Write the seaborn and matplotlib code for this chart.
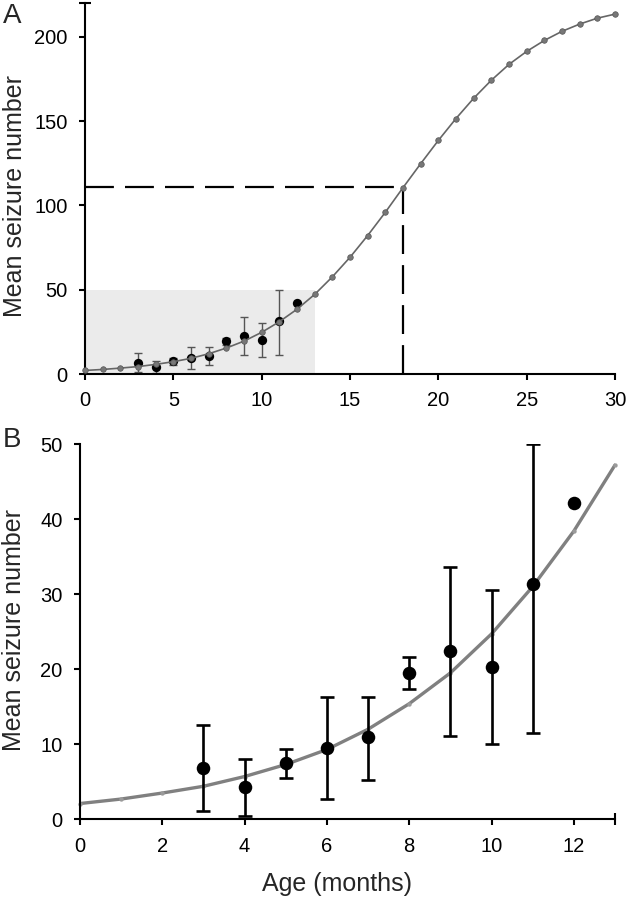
import numpy as np
import pandas as pd
import matplotlib
matplotlib.use("Agg")
import matplotlib.pyplot as plt
from matplotlib.ticker import FixedLocator
import seaborn as sns

# ---- data ----
model_months = list(range(0, 31))
model_values = [2.1, 2.7, 3.5, 4.4, 5.7, 7.3, 9.3, 12.0, 15.4, 19.5, 24.7, 31.0,
                38.4, 47.2, 57.6, 69.2, 82.1, 95.9, 110.5, 124.7, 138.5, 151.5,
                163.5, 174.2, 183.6, 191.3, 197.8, 203.2, 207.5, 211.0, 213.4]

obs_months = [3, 4, 5, 6, 7, 8, 9, 10, 11, 12]
obs_mean = [6.8, 4.3, 7.5, 9.5, 10.9, 19.5, 22.4, 20.3, 31.3, 42.1]
obs_upper = [12.5, 8.0, 9.4, 16.3, 16.3, 21.6, 33.6, 30.5, 50.0, np.nan]
obs_lower = [1.1, 0.5, 5.5, 2.7, 5.3, 17.4, 11.1, 10.0, 11.5, np.nan]

marker_month = 18
marker_value = 111
shade_x = [0, 13]
shade_top = 50

model_df = pd.DataFrame({"month": model_months, "value": model_values})
obs_df = pd.DataFrame({"month": obs_months, "mean": obs_mean,
                       "upper": obs_upper, "lower": obs_lower})
modelB = model_df[model_df["month"] <= 13]

sns.set_theme(style="ticks")
plt.rcParams["font.family"] = ["Liberation Sans", "DejaVu Sans"]

W, H = 627, 900
fig = plt.figure(figsize=(W / 100, H / 100), dpi=100)

def frac(x0, y0, x1, y1):
    return [x0 / W, 1 - y1 / H, (x1 - x0) / W, (y1 - y0) / H]

axA = fig.add_axes(frac(85, 3, 615, 374))
axB = fig.add_axes(frac(80, 444, 615, 819.3))

# ---------- Panel A ----------
axA.fill_between(shade_x, 0, shade_top, color="#ebebeb", lw=0, zorder=0)
axA.plot([0, marker_month], [marker_value, marker_value], color="black",
         lw=1.6, linestyle=(0, (13, 5)), zorder=1)
axA.plot([marker_month, marker_month], [0, marker_value], color="black",
         lw=1.6, linestyle=(0, (13, 5)), zorder=1)

errA = obs_df.dropna()
axA.errorbar(errA["month"], errA["mean"],
             yerr=[errA["mean"] - errA["lower"], errA["upper"] - errA["mean"]],
             fmt="none", ecolor="#555555", elinewidth=1.0, capsize=3.2,
             capthick=1.0, zorder=2)
sns.scatterplot(data=obs_df, x="month", y="mean", ax=axA, color="black",
                s=45, edgecolor="black", linewidth=0, zorder=3, clip_on=False)
sns.lineplot(data=model_df, x="month", y="value", ax=axA, color="#666666",
             lw=1.2, zorder=4)
sns.scatterplot(data=model_df, x="month", y="value", ax=axA, color="#777777",
                s=16, edgecolor="#555555", linewidth=0.5, zorder=5, clip_on=False)

axA.set_xlim(0, 30)
axA.set_ylim(0, 220)
axA.set_xticks([0, 5, 10, 15, 20, 25, 30])
axA.set_yticks([0, 50, 100, 150, 200])
axA.yaxis.set_minor_locator(FixedLocator([220]))
axA.xaxis.set_minor_locator(FixedLocator([30]))
axA.set_xlabel("")
axA.set_ylabel("Mean seizure number", fontsize=18)
axA.yaxis.set_label_coords(-0.11, 0.48)

# ---------- Panel B ----------
sns.lineplot(data=modelB, x="month", y="value", ax=axB, color="#808080",
             lw=2.4, zorder=1)
sns.scatterplot(data=modelB, x="month", y="value", ax=axB, color="#9a9a9a",
                s=10, linewidth=0, zorder=2, clip_on=False)
axB.errorbar(errA["month"], errA["mean"],
             yerr=[errA["mean"] - errA["lower"], errA["upper"] - errA["mean"]],
             fmt="none", ecolor="black", elinewidth=1.9, capsize=5,
             capthick=1.9, zorder=3)
sns.scatterplot(data=obs_df, x="month", y="mean", ax=axB, color="black",
                s=95, linewidth=0, zorder=4, clip_on=False)

axB.set_xlim(0, 13)
axB.set_ylim(0, 50)
axB.set_xticks([0, 2, 4, 6, 8, 10, 12])
axB.set_yticks([0, 10, 20, 30, 40, 50])
axB.xaxis.set_minor_locator(FixedLocator([13]))
axB.yaxis.set_minor_locator(FixedLocator([50]))
axB.set_xlabel("Age (months)", fontsize=18)
axB.set_ylabel("Mean seizure number", fontsize=18)
axB.yaxis.set_label_coords(-0.1, 0.505)
axB.xaxis.set_label_coords(0.48, -0.14)

for ax in (axA, axB):
    sns.despine(ax=ax)
    for s in ("left", "bottom"):
        ax.spines[s].set_color("black")
        ax.spines[s].set_linewidth(1.5)
    ax.tick_params(which="major", direction="out", length=4.5, width=1.5,
                   color="black", labelsize=14.5, labelcolor="black", pad=8)
    ax.tick_params(which="minor", direction="inout", length=9, width=1.5,
                   color="black")
    ax.set_facecolor("white")

fig.text(3 / W, 1 - 3 / H, "A", fontsize=20, ha="left", va="top")
fig.text(3 / W, 1 - 427 / H, "B", fontsize=20, ha="left", va="top")

fig.savefig("out.png", dpi=100, facecolor="white")
